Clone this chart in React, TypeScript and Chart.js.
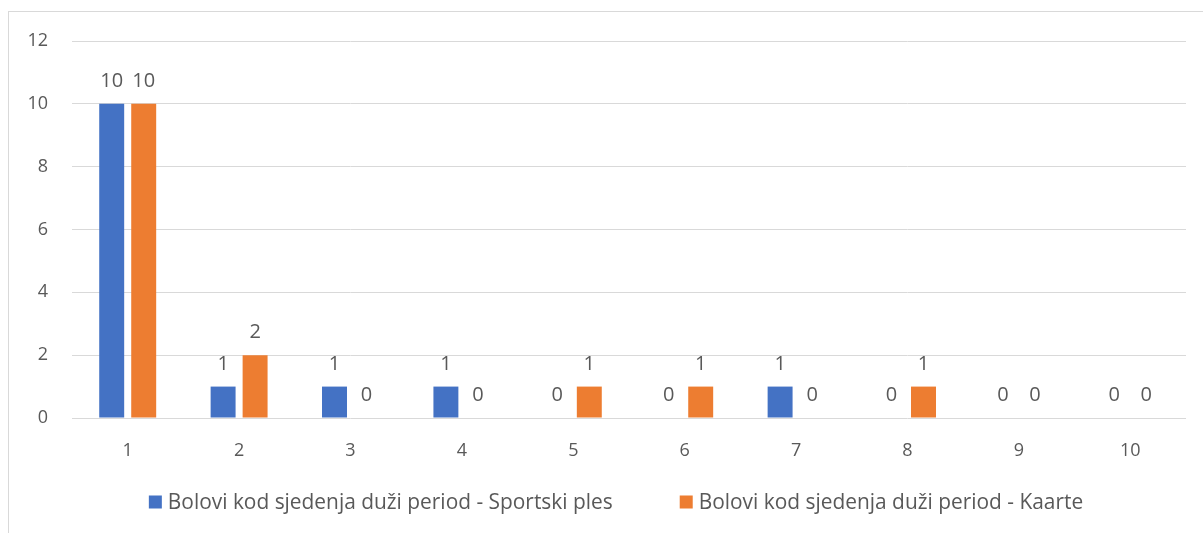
import React, { useEffect, useRef } from "react";
import { Chart, registerables } from "chart.js";

Chart.register(...registerables);

const categories = ["1", "2", "3", "4", "5", "6", "7", "8", "9", "10"];
const sportskiPles = [10, 1, 1, 1, 0, 0, 1, 0, 0, 0];
const kaarte = [10, 2, 0, 0, 1, 1, 0, 1, 0, 0];
const seriesNames = [
  "Bolovi kod sjedenja duži period - Sportski ples",
  "Bolovi kod sjedenja duži period - Kaarte",
];
const seriesColors = ["#4472C4", "#ED7D31"];
const yTicks = [0, 2, 4, 6, 8, 10, 12];

const FONT = "'Open Sans', sans-serif";
const TEXT = "#595959";
const TICK_FS = 18;
const LABEL_FS = 20;
const LEGEND_FS = 20.9;

const dataLabels = {
  id: "dataLabels",
  afterDatasetsDraw(chart: any) {
    const ctx = chart.ctx;
    ctx.save();
    ctx.font = `${LABEL_FS}px ${FONT}`;
    ctx.fillStyle = TEXT;
    ctx.textAlign = "center";
    ctx.textBaseline = "alphabetic";
    chart.data.datasets.forEach((ds: any, i: number) => {
      const meta = chart.getDatasetMeta(i);
      meta.data.forEach((el: any, j: number) => {
        ctx.fillText(String(ds.data[j]), el.x, el.y - 17);
      });
    });
    ctx.restore();
  },
};

const bottomLegend = {
  id: "bottomLegend",
  afterDraw(chart: any) {
    const ctx = chart.ctx;
    ctx.save();
    ctx.font = `${LEGEND_FS}px ${FONT}`;
    ctx.textBaseline = "middle";
    ctx.textAlign = "left";
    const box = 13;
    const boxGap = 6;
    const itemGap = 67;
    const items = chart.data.datasets.map((ds: any) => ({
      text: ds.label,
      color: ds.backgroundColor,
      w: box + boxGap + ctx.measureText(ds.label).width,
    }));
    const total = items.reduce((a: number, it: any) => a + it.w, 0) + itemGap * (items.length - 1);
    let x = chart.width / 2 - total / 2;
    const yc = 490;
    items.forEach((it: any) => {
      ctx.fillStyle = it.color;
      ctx.fillRect(x, yc - box / 2, box, box);
      ctx.fillStyle = TEXT;
      ctx.fillText(it.text, x + box + boxGap, yc + 1);
      x += it.w + itemGap;
    });
    ctx.restore();
  },
};

export default function App() {
  const ref = useRef<HTMLCanvasElement | null>(null);
  useEffect(() => {
    if (!ref.current) return;
    const chart = new Chart(ref.current, {
      type: "bar",
      data: {
        labels: categories,
        datasets: [
          {
            label: seriesNames[0],
            data: sportskiPles,
            backgroundColor: seriesColors[0],
            categoryPercentage: 0.5745,
            barPercentage: 0.78,
          },
          {
            label: seriesNames[1],
            data: kaarte,
            backgroundColor: seriesColors[1],
            categoryPercentage: 0.5745,
            barPercentage: 0.78,
          },
        ],
      },
      options: {
        responsive: false,
        animation: false,
        layout: { padding: { left: 0, right: 0, top: 29, bottom: 70 } },
        scales: {
          x: {
            grid: { display: false },
            border: { display: false },
            ticks: { color: TEXT, font: { family: FONT, size: TICK_FS }, padding: 14, maxRotation: 0 },
            afterFit(s: any) {
              s.height = 45;
            },
          },
          y: {
            min: 0,
            max: 12,
            grid: { color: "#d9d9d9", drawTicks: false, lineWidth: 1 },
            border: { display: false },
            ticks: { color: TEXT, font: { family: FONT, size: TICK_FS }, padding: 24 },
            afterBuildTicks(s: any) {
              s.ticks = yTicks.map((v) => ({ value: v }));
            },
            afterFit(s: any) {
              s.width = 63;
              s.paddingTop = 0;
              s.paddingBottom = 0;
            },
          },
          y2: {
            type: "linear",
            position: "right",
            grid: { display: false },
            border: { display: false },
            ticks: { display: false },
            afterFit(s: any) {
              s.width = 37;
              s.paddingTop = 0;
              s.paddingBottom = 0;
            },
          },
        },
        plugins: {
          legend: { display: false },
          tooltip: { enabled: false },
        },
      },
      plugins: [dataLabels, bottomLegend],
    });
    return () => chart.destroy();
  }, []);

  return (
    <div
      style={{
        position: "fixed",
        left: 8,
        top: 11,
        width: 1216,
        height: 540,
        border: "1px solid #d9d9d9",
        boxSizing: "border-box",
        background: "#fff",
      }}
    >
      <canvas ref={ref} width={1214} height={521} style={{ display: "block" }} />
    </div>
  );
}
